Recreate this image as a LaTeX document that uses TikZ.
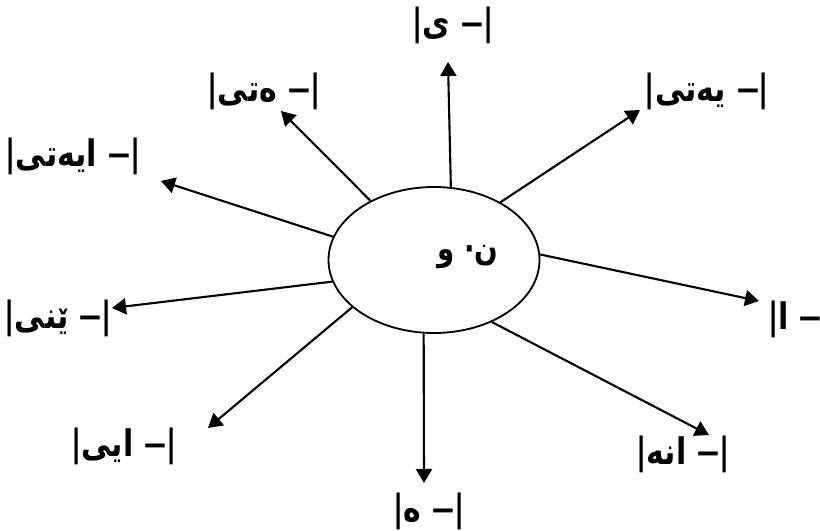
\documentclass[tikz,border=0pt]{standalone}
\usepackage{fontspec}
\usetikzlibrary{arrows.meta,shapes.geometric}
\setmainfont{Liberation Sans}
\newfontfamily\arabicfont[Script=Arabic, FakeStretch=0.82]{DejaVu Sans}
\newcommand{\sfx}[1]{|\hbox{\fontsize{26}{30}\selectfont\arabicfont\bfseries #1}\ \textbf{–}|}

\begin{document}
\begin{tikzpicture}[
  x=0.25mm, y=-0.25mm,
  rootbox/.style={draw, ellipse, line width=1.3pt, minimum width=52.75mm, minimum height=36.5mm, inner sep=0pt},
  suffix/.style={font=\fontsize{28}{32}\selectfont, inner sep=0pt},
  ray/.style={-{Triangle[length=3.5mm,width=4mm]}, line width=1.5pt}
]
\useasboundingbox (0,0) rectangle (820,531);

\node[rootbox] (root) at (434,260) {};
\node[font=\fontsize{24}{28}\selectfont\arabicfont\bfseries] (rootword) at (468,257) {\mbox{و}\ \mbox{·}\mbox{ن}};

% suffix labels
\node[suffix] (sfxN) at (453,25) {\sfx{ی}};
\node[suffix] (sfxNW) at (264,91) {\sfx{ەتی}};
\node[suffix] (sfxNE) at (707,91) {\sfx{یەتی}};
\node[suffix] (sfxWN) at (73,156) {\sfx{ایەتی}};
\node[suffix] (sfxW) at (58,318) {\sfx{ێنی}};
\node[suffix, anchor=west] (sfxE) at (768,319) {\sfx{ا}};
\node[suffix] (sfxSW) at (124,446) {\sfx{ایی}};
\node[suffix] (sfxS) at (429,511) {\sfx{ە}};
\node[suffix] (sfxSE) at (683,454) {\sfx{انە}};

% arrow tips
\coordinate (tipN) at (448,62);
\coordinate (tipNW) at (281,111);
\coordinate (tipWN) at (161,181);
\coordinate (tipW) at (112,308);
\coordinate (tipSW) at (208,428);
\coordinate (tipS) at (424,483);
\coordinate (tipSE) at (709,435);
\coordinate (tipE) at (759,301);
\coordinate (tipNE) at (640,110);

\draw[ray] (root.77.5) -- (tipN);
\draw[ray] (root.137) -- (tipNW);
\draw[ray] (root.167.5) -- (tipWN);
\draw[ray] (root.192.8) -- (tipW);
\draw[ray] (root.210.2) -- (tipSW);
\draw[ray] (root.262.4) -- (tipS);
\draw[ray] (root.313.2) -- (tipSE);
\draw[ray] (root.3.1) -- (tipE);
\draw[ray] (root.41) -- (tipNE);
\end{tikzpicture}
\end{document}
